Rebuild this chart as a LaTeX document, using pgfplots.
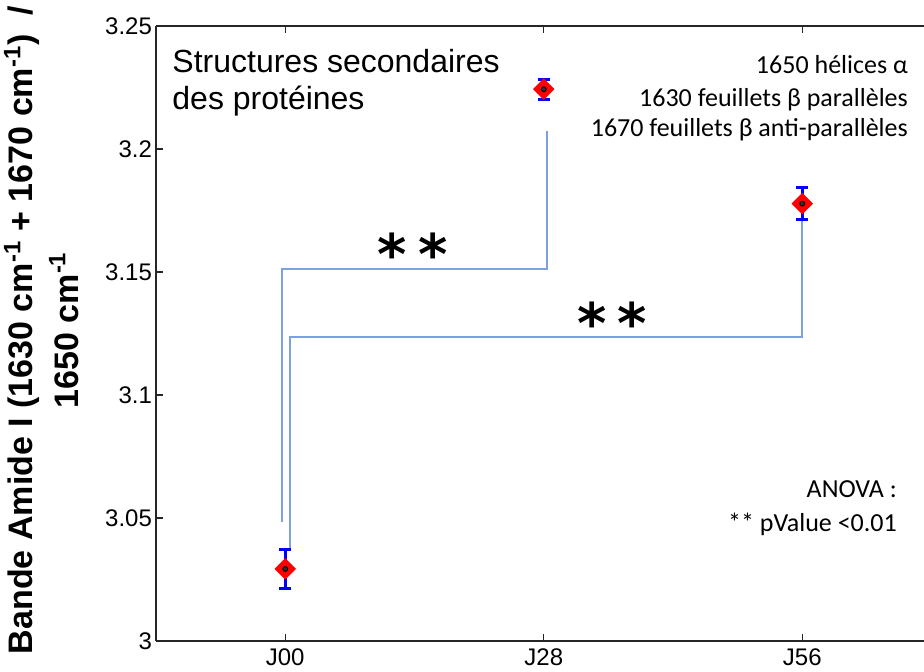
\documentclass[border=0pt]{standalone}
\usepackage{fontspec}
\setmainfont{Liberation Sans}
\newfontfamily\calibri{Carlito}
\newfontfamily\dejavu{DejaVu Sans}
\usepackage{pgfplots}
\pgfplotsset{compat=1.18}
\definecolor{sigblue}{RGB}{125,160,225}
\definecolor{axgray}{RGB}{38,38,38}
\newcommand{\tf}{\fontsize{12}{14}\selectfont}
\begin{document}
\begin{tikzpicture}
\begin{axis}[
  scale only axis, width=384pt, height=307.5pt,
  xmin=-0.5, xmax=2.471, ymin=3, ymax=3.25,
  axis x line*=box, axis y line*=left,
  xtick={0,1,2}, xticklabels={{\tf J00},{\tf J28},{\tf J56}},
  ytick={3,3.05,3.1,3.15,3.2,3.25},
  yticklabels={{\tf 3},{\tf 3.05},{\tf 3.1},{\tf 3.15},{\tf 3.2},{\tf 3.25}},
  xticklabel style={yshift=-0.5pt},
  yticklabel style={xshift=1.5pt},
  tick align=inside, major tick length=3.5pt,
  axis line style={axgray, line width=0.8pt},
  tick style={axgray, line width=0.6pt},
  clip=false,
]
\addplot[sigblue, line width=1pt] coordinates {(-0.0128,3.0482) (-0.0128,3.1511) (1.014,3.1511) (1.014,3.2074)};
\addplot[sigblue, line width=1pt] coordinates {(0.0193,3.0373) (0.0193,3.1235) (2.0,3.1235) (2.0,3.1714)};
\addplot[only marks, mark=square*, mark size=3.5pt, mark options={rotate=45, draw=red, fill=red, line width=0.6pt}] table {
x y
0 3.0293
1 3.2243
2 3.1778
};
\addplot[only marks, mark=*, mark size=1.2pt, mark options={draw=black, fill=gray!40!black, line width=0.5pt},
  error bars/.cd, y dir=both, y explicit,
  error bar style={blue, line width=1.5pt},
  error mark options={blue, line width=1.5pt, mark size=3pt, rotate=90}] table[y error=e] {
x y e
0 3.0293 0.0080
1 3.2243 0.0040
2 3.1778 0.0066
};
\node[anchor=base west, inner sep=0, font=\fontsize{16}{19}\selectfont] at (axis cs:-0.438,3.2313) {Structures secondaires};
\node[anchor=base west, inner sep=0, font=\fontsize{16}{19}\selectfont] at (axis cs:-0.438,3.2162) {des protéines};
\node[anchor=base east, inner sep=0, font=\calibri\fontsize{13}{15}\selectfont] at (axis cs:2.410,3.2305) {1650 hélices α};
\node[anchor=base east, inner sep=0, font=\calibri\fontsize{13}{15}\selectfont] at (axis cs:2.410,3.2174) {1630 feuillets β parallèles};
\node[anchor=base east, inner sep=0, font=\calibri\fontsize{13}{15}\selectfont] at (axis cs:2.410,3.2052) {1670 feuillets β anti-parallèles};
\node[anchor=base east, inner sep=0, font=\calibri\fontsize{13}{15}\selectfont] at (axis cs:2.3675,3.0582) {ANOVA :};
\node[anchor=base east, inner sep=0, font=\calibri\fontsize{13}{15}\selectfont] at (axis cs:2.3675,3.0444) {** pValue <0.01};
\node[anchor=base, inner sep=0, font=\dejavu\fontsize{28}{28}\selectfont\bfseries] at (axis cs:0.414,3.1490) {*};
\node[anchor=base, inner sep=0, font=\dejavu\fontsize{28}{28}\selectfont\bfseries] at (axis cs:0.5725,3.1490) {*};
\node[anchor=base, inner sep=0, font=\dejavu\fontsize{28}{28}\selectfont\bfseries] at (axis cs:1.1876,3.1209) {*};
\node[anchor=base, inner sep=0, font=\dejavu\fontsize{28}{28}\selectfont\bfseries] at (axis cs:1.3424,3.1209) {*};
\end{axis}
\node[rotate=90, anchor=base, inner sep=0, font=\fontsize{17}{20}\selectfont\bfseries] at ([xshift=-61.5pt, yshift=1.75pt]current axis.west) {Bande Amide I (1630 cm\textsuperscript{-1} + 1670 cm\textsuperscript{-1})\ \ /};
\node[rotate=90, anchor=base, inner sep=0, font=\fontsize{17}{20}\selectfont\bfseries] at ([xshift=-39pt, yshift=1.75pt]current axis.west) {1650 cm\textsuperscript{-1}};
\pgfresetboundingbox
\path[use as bounding box] ([xshift=-78pt,yshift=-15pt]current axis.south west) rectangle ([yshift=13pt]current axis.north east);
\end{tikzpicture}
\end{document}
